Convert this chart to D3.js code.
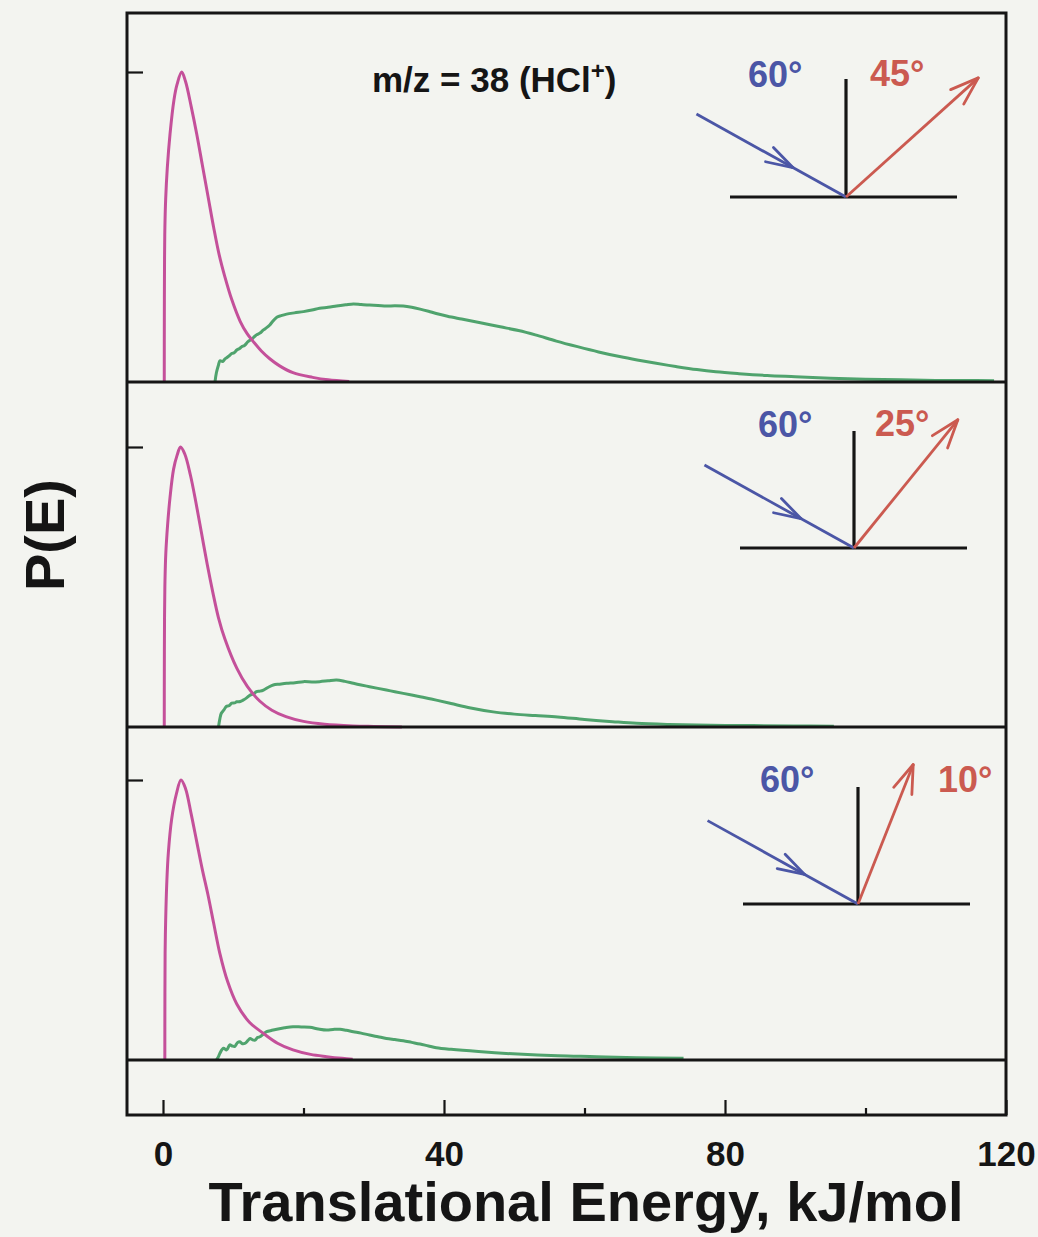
<!DOCTYPE html>
<html>
<head>
<meta charset="utf-8">
<script src="https://cdn.jsdelivr.net/npm/d3@7/dist/d3.min.js"></script>
<style>
  html, body { margin: 0; padding: 0; background: #f3f4f0; }
  svg { display: block; }
  text { font-family: "Liberation Sans", Arial, Helvetica, sans-serif; font-weight: bold; }
</style>
</head>
<body>
<svg id="chart" width="1038" height="1237"></svg>
<script>
// ---------------- DATA ----------------
const xTickMajor = [0, 40, 80, 120];
const xTickMinor = [20, 60, 100];
const xTickLabels = ["0", "40", "80", "120"];
const xTitle = "Translational Energy, kJ/mol";
const yTitle = "P(E)";
const panelTitle = "m/z = 38 (HCl";
const incidentLabels = ["60°", "60°", "60°"];
const exitLabels = ["45°", "25°", "10°"];

// magenta (thermal) component, [E (kJ/mol), P(E)]
const thermal1 = [[0.18,0],[0.19,0.2],[0.22,0.4],[0.27,0.5],[0.38,0.59],[0.61,0.69],[1.0,0.80],[1.56,0.91],[2.0,0.96],[2.66,1.0],[3.2,0.97],[4.0,0.89],[4.8,0.80],[5.6,0.70],[6.4,0.60],[7.2,0.50],[8.0,0.41],[8.8,0.34],[9.8,0.265],[11.0,0.195],[12.0,0.155],[12.8,0.132],[14.0,0.10],[15.2,0.075],[16.6,0.052],[18.5,0.03],[21.3,0.015],[23.5,0.007],[26.5,0.002]];
const thermal2 = [[0.18,0],[0.19,0.2],[0.22,0.4],[0.28,0.52],[0.4,0.62],[0.65,0.72],[1.0,0.82],[1.5,0.92],[2.0,0.97],[2.5,1.0],[3.1,0.975],[3.9,0.90],[4.7,0.80],[5.5,0.69],[6.3,0.58],[7.1,0.48],[7.9,0.39],[8.8,0.315],[10.5,0.21],[12.0,0.145],[13.8,0.092],[15.5,0.06],[17.5,0.037],[20,0.02],[23,0.01],[27,0.004],[30,0.002],[34,0.0]];
const thermal3 = [[0.26,0],[0.27,0.2],[0.3,0.38],[0.38,0.5],[0.55,0.64],[0.76,0.74],[1.23,0.86],[1.9,0.95],[2.56,1.0],[3.2,0.97],[4.0,0.88],[4.8,0.78],[5.6,0.68],[6.4,0.59],[7.2,0.49],[8.1,0.38],[9.2,0.28],[10.5,0.20],[12.3,0.135],[14.3,0.095],[16.3,0.06],[18.5,0.036],[21,0.02],[23.3,0.012],[25.5,0.006],[27,0.003]];

// green (direct scattering) component, [E (kJ/mol), P(E)]
const direct1 = [[7.4,0.0],[7.6,0.03],[7.9,0.055],[8.1,0.068],[8.5,0.066],[8.8,0.074],[9.06,0.078],[9.4,0.084],[9.77,0.092],[10.1,0.094],[10.5,0.103],[10.9,0.108],[11.2,0.114],[11.6,0.118],[12.1,0.13],[12.6,0.138],[13.0,0.146],[13.3,0.152],[13.8,0.158],[14.3,0.168],[14.8,0.176],[15.2,0.184],[15.7,0.198],[16.2,0.209],[16.8,0.214],[17.6,0.219],[18.7,0.223],[20.0,0.227],[21.2,0.232],[22.3,0.238],[23.5,0.241],[24.7,0.245],[26,0.249],[27.1,0.252],[28.2,0.25],[29.4,0.248],[30.6,0.247],[31.8,0.245],[33,0.246],[34.2,0.245],[35.4,0.241],[36.6,0.235],[37.8,0.228],[38.9,0.221],[40.5,0.212],[42.5,0.203],[45,0.192],[48,0.178],[50.6,0.166],[53,0.152],[56,0.132],[59,0.114],[62,0.097],[65,0.082],[67.5,0.071],[70,0.061],[73,0.05],[76,0.04],[78.7,0.033],[82,0.027],[86,0.021],[90,0.017],[95,0.012],[100,0.009],[105,0.007],[110,0.005],[114,0.005],[118.3,0.004]];
const direct2 = [[7.9,0.0],[8.1,0.03],[8.3,0.049],[8.7,0.062],[9.0,0.073],[9.4,0.076],[9.8,0.085],[10.2,0.086],[10.5,0.09],[11.0,0.091],[11.4,0.096],[11.9,0.104],[12.4,0.114],[12.9,0.118],[13.3,0.126],[13.8,0.128],[14.3,0.132],[15.0,0.142],[15.7,0.15],[16.6,0.153],[17.6,0.156],[18.8,0.158],[20,0.162],[21.2,0.161],[22.3,0.162],[23.5,0.165],[24.7,0.168],[25.9,0.163],[27.1,0.156],[28.2,0.15],[29.4,0.144],[30.6,0.138],[31.8,0.132],[33,0.126],[34.2,0.12],[35.4,0.114],[36.6,0.108],[37.8,0.102],[38.9,0.096],[41,0.084],[43.8,0.068],[47,0.054],[50,0.046],[53,0.041],[56.2,0.036],[60,0.027],[64,0.019],[67.4,0.013],[72,0.009],[78,0.006],[84,0.005],[89.8,0.004],[95.5,0.003]];
const direct3 = [[7.6,0.0],[7.9,0.012],[8.1,0.024],[8.6,0.042],[9.06,0.036],[9.5,0.054],[9.85,0.05],[10.2,0.048],[10.6,0.062],[10.95,0.065],[11.3,0.058],[11.7,0.06],[12.1,0.07],[12.4,0.077],[12.75,0.072],[13.1,0.071],[13.45,0.08],[13.8,0.083],[14.3,0.093],[14.75,0.101],[15.5,0.106],[16.2,0.11],[17.3,0.115],[18.5,0.119],[19.7,0.118],[20.9,0.117],[22.1,0.111],[23.3,0.107],[24.2,0.109],[25.2,0.11],[26.1,0.106],[27.1,0.101],[28.2,0.096],[29.4,0.089],[30.6,0.083],[31.8,0.077],[33,0.073],[34.2,0.069],[35.4,0.063],[36.6,0.057],[37.8,0.05],[38.9,0.044],[41,0.038],[44.9,0.03],[50.5,0.021],[56.2,0.015],[61.7,0.012],[67.4,0.008],[74.1,0.006]];

const thermalSeries = [thermal1, thermal2, thermal3];
const directSeries = [direct1, direct2, direct3];

// ---------------- LAYOUT ----------------
const C = {
  magenta: "#c4509a",
  green: "#4fa36d",
  blue: "#4b56a6",
  red: "#cb5a50",
  ink: "#151515"
};
const frame = { left: 127, right: 1006, top: 13, bottom: 1115 };
const panels = [
  { base: 382, one: 72 },
  { base: 727, one: 447 },
  { base: 1060, one: 780 }
];
// inset geometry (pixel layout of the scattering-geometry sketches)
const insets = [
  { ox: 846, oy: 197, left: 116, right: 111, normal: 118, inLen: 171, inAng: 61, outLen: 178, outAng: 48,
    inLab: [748, 87], outLab: [870, 86] },
  { ox: 854, oy: 548, left: 114, right: 113, normal: 117, inLen: 171, inAng: 61, outLen: 165, outAng: 39,
    inLab: [758, 437], outLab: [875, 436] },
  { ox: 858, oy: 904, left: 115, right: 112, normal: 117, inLen: 172, inAng: 61, outLen: 150, outAng: 21.6,
    inLab: [760, 792], outLab: [938, 792] }
];

const svg = d3.select("#chart");
svg.append("rect").attr("width", 1038).attr("height", 1237).attr("fill", "#f3f4f0");

const x = d3.scaleLinear().domain([0, 120]).range([163, 1006]);

panels.forEach((p, i) => {
  const y = d3.scaleLinear().domain([0, 1]).range([p.base, p.one]);
  const line = d3.line().x(d => x(d[0])).y(d => y(d[1])).curve(d3.curveCatmullRom.alpha(0.5));
  const g = svg.append("g");
  g.append("path").attr("d", line(directSeries[i]))
    .attr("fill", "none").attr("stroke", C.green).attr("stroke-width", 3).attr("stroke-linejoin", "round");
  g.append("path").attr("d", line(thermalSeries[i]))
    .attr("fill", "none").attr("stroke", C.magenta).attr("stroke-width", 3).attr("stroke-linejoin", "round");

  // y tick at P = 1 (inward)
  const yAxis = d3.axisRight(y).tickValues([1]).tickSize(16).tickFormat("");
  const ya = svg.append("g").attr("transform", `translate(${frame.left},0)`).call(yAxis);
  ya.select(".domain").remove();
  ya.selectAll("line").attr("stroke", C.ink).attr("stroke-width", 2.2);

  // baseline across the frame
  svg.append("line").attr("x1", frame.left).attr("x2", frame.right)
    .attr("y1", p.base).attr("y2", p.base).attr("stroke", C.ink).attr("stroke-width", 3);
});

// frame
svg.append("rect").attr("x", frame.left).attr("y", frame.top)
  .attr("width", frame.right - frame.left).attr("height", frame.bottom - frame.top)
  .attr("fill", "none").attr("stroke", C.ink).attr("stroke-width", 3);

// x ticks (inward, from bottom frame)
const xMaj = svg.append("g").attr("transform", `translate(0,${frame.bottom})`)
  .call(d3.axisTop(x).tickValues(xTickMajor).tickSize(15).tickFormat(""));
const xMin = svg.append("g").attr("transform", `translate(0,${frame.bottom})`)
  .call(d3.axisTop(x).tickValues(xTickMinor).tickSize(7).tickFormat(""));
[xMaj, xMin].forEach(a => { a.select(".domain").remove(); a.selectAll("line").attr("stroke", C.ink).attr("stroke-width", 2.2); });

// x tick labels
const xLab = svg.append("g").attr("transform", `translate(0,${frame.bottom})`)
  .call(d3.axisBottom(x).tickValues(xTickMajor).tickSize(0).tickPadding(0)
    .tickFormat((d, i) => xTickLabels[i]));
xLab.select(".domain").remove();
xLab.selectAll("text").attr("font-size", 35).attr("fill", C.ink)
  .attr("font-family", "'Liberation Sans', Arial, sans-serif").attr("font-weight", "bold")
  .attr("dy", null).attr("y", 51);

// axis titles
svg.append("text").attr("x", 586).attr("y", 1221).attr("text-anchor", "middle")
  .attr("font-size", 56).attr("fill", C.ink).text(xTitle);
svg.append("text").attr("transform", "translate(64,535) rotate(-90)").attr("text-anchor", "middle")
  .attr("font-size", 56).attr("fill", C.ink).text(yTitle);

// panel title
const pt = svg.append("text").attr("x", 372).attr("y", 92).attr("font-size", 35).attr("fill", C.ink);
pt.append("tspan").text(panelTitle);
pt.append("tspan").attr("font-size", 24).attr("dy", -13).text("+");
pt.append("tspan").attr("dy", 13).text(")");

// insets
const rad = Math.PI / 180;
function barbs(g, tx, ty, backAngle, len, half, color) {
  [-half, half].forEach(h => {
    const a = backAngle + h * rad;
    g.append("line").attr("x1", tx).attr("y1", ty)
      .attr("x2", tx + len * Math.cos(a)).attr("y2", ty + len * Math.sin(a))
      .attr("stroke", color).attr("stroke-width", 2.8).attr("stroke-linecap", "round");
  });
}
insets.forEach((s, i) => {
  const g = svg.append("g");
  // surface and normal
  g.append("line").attr("x1", s.ox - s.left).attr("x2", s.ox + s.right).attr("y1", s.oy).attr("y2", s.oy)
    .attr("stroke", C.ink).attr("stroke-width", 3.2);
  g.append("line").attr("x1", s.ox).attr("x2", s.ox).attr("y1", s.oy).attr("y2", s.oy - s.normal)
    .attr("stroke", C.ink).attr("stroke-width", 3.2);
  // incoming (blue)
  const bx = s.ox - s.inLen * Math.sin(s.inAng * rad), by = s.oy - s.inLen * Math.cos(s.inAng * rad);
  g.append("line").attr("x1", bx).attr("y1", by).attr("x2", s.ox).attr("y2", s.oy)
    .attr("stroke", C.blue).attr("stroke-width", 2.8);
  const f = 0.645;
  const tx = bx + (s.ox - bx) * f, ty = by + (s.oy - by) * f;
  barbs(g, tx, ty, Math.atan2(by - s.oy, bx - s.ox), 28, 17, C.blue);
  // outgoing (red)
  const rx = s.ox + s.outLen * Math.sin(s.outAng * rad), ry = s.oy - s.outLen * Math.cos(s.outAng * rad);
  g.append("line").attr("x1", s.ox).attr("y1", s.oy).attr("x2", rx).attr("y2", ry)
    .attr("stroke", C.red).attr("stroke-width", 2.8);
  barbs(g, rx, ry, Math.atan2(s.oy - ry, s.ox - rx), 30, 19, C.red);
  // labels
  g.append("text").attr("x", s.inLab[0]).attr("y", s.inLab[1]).attr("font-size", 36)
    .attr("fill", C.blue).text(incidentLabels[i]);
  g.append("text").attr("x", s.outLab[0]).attr("y", s.outLab[1]).attr("font-size", 36)
    .attr("fill", C.red).text(exitLabels[i]);
});
</script>
</body>
</html>
